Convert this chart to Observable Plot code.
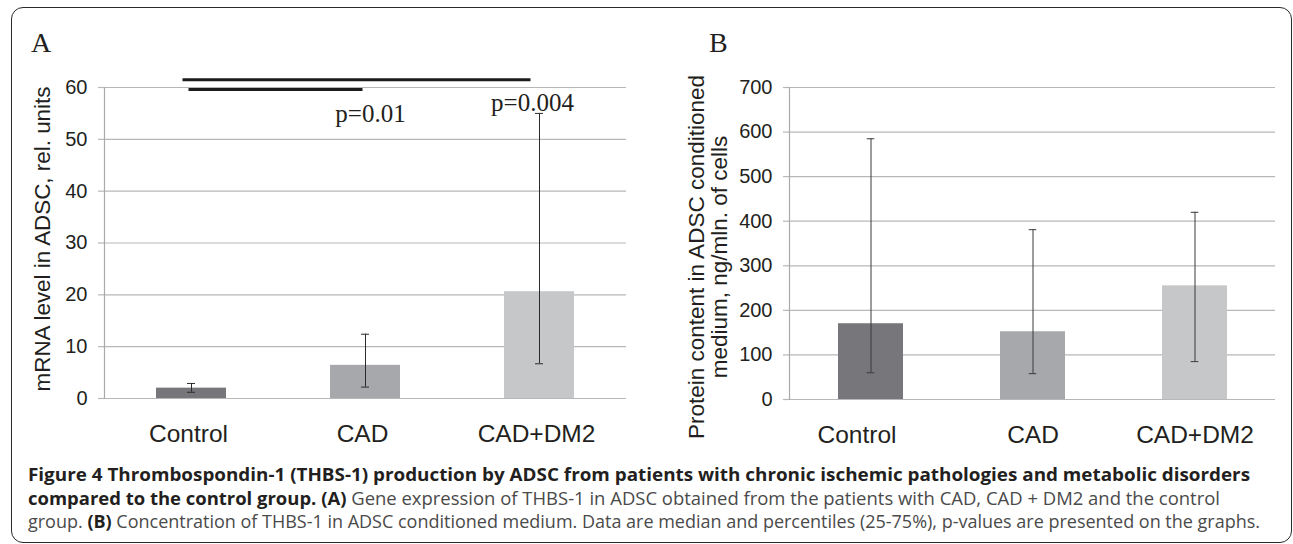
<!DOCTYPE html>
<html>
<head>
<meta charset="utf-8">
<script src="https://cdn.jsdelivr.net/npm/d3@7"></script>
<script src="https://cdn.jsdelivr.net/npm/@observablehq/plot@0.6"></script>
<style>
  html, body { margin: 0; padding: 0; background: #fff; }
  #fig { position: relative; width: 1293px; height: 544px; overflow: hidden; background: #fff; }
  #frame { position: absolute; left: 11px; top: 7px; width: 1281px; height: 536px; box-sizing: border-box;
           border: 1.6px solid #2a2a2a; border-radius: 12px; }
  .panel { position: absolute; top: 0; }
  .plabel { position: absolute; font-family: "Liberation Serif", "Times New Roman", serif; font-size: 28px;
            color: #231f20; line-height: 28px; }
  .ylab { position: absolute; transform-origin: 0 0; transform: rotate(-90deg); white-space: nowrap;
          font-family: "Liberation Sans", Arial, sans-serif; color: #231f20; text-align: center; }
  .cap { position: absolute; left: 28px; white-space: nowrap; font-family: "Open Sans", sans-serif;
         font-size: 18.5px; line-height: 23.5px; color: #4a4a4a; transform-origin: 0 0; }
  .cap b { color: #231f20; font-weight: 700; }
</style>
</head>
<body>
<div id="fig">
  <div id="frame"></div>
  <div id="panelA" class="panel" style="left:0px"></div>
  <div id="panelB" class="panel" style="left:640px"></div>
  <div class="plabel" style="left:31px; top:29px">A</div>
  <div class="plabel" style="left:709px; top:29px">B</div>
  <div class="ylab" style="left:32px; top:439px; width:400px; font-size:22.4px; line-height:22px;">mRNA level in ADSC, rel. units</div>
  <div class="ylab" style="left:685px; top:457px; width:400px; font-size:22.5px; line-height:23px;">Protein content in ADSC conditioned<br>medium, ng/mln. of cells</div>
  <div class="cap" id="cap1" style="top:462px"><b>Figure 4 Thrombospondin-1 (THBS-1) production by ADSC from patients with chronic ischemic pathologies and metabolic disorders</b></div>
  <div class="cap" id="cap2" style="top:485.5px"><b>compared to the control group. (A)</b> Gene expression of THBS-1 in ADSC obtained from the patients with CAD, CAD + DM2 and the control</div>
  <div class="cap" id="cap3" style="top:509px">group. <b>(B)</b> Concentration of THBS-1 in ADSC conditioned medium. Data are median and percentiles (25-75%), p-values are presented on the graphs.</div>
</div>
<script>
// ---- data ----
const categories = ["Control", "CAD", "CAD+DM2"];
const barColors = ["#77777b", "#a7a8ab", "#c6c7c9"];

// Panel A: mRNA level (median, 25th, 75th percentile)
const mrnaMedian = [2.0, 6.4, 20.6];
const mrnaLow = [1.2, 2.2, 6.7];
const mrnaHigh = [2.9, 12.4, 55.0];
const mrnaTicks = [0, 10, 20, 30, 40, 50, 60];

// Panel B: protein content (median, 25th, 75th percentile)
const proteinMedian = [170, 152, 255];
const proteinLow = [60, 58, 85];
const proteinHigh = [585, 381, 420];
const proteinTicks = [0, 100, 200, 300, 400, 500, 600, 700];

// significance annotations (panel A)
const brackets = [
  {from: "Control", to: "CAD+DM2", y: 61.5},
  {from: "Control", to: "CAD", y: 59.6}
];
const pLabels = [
  {group: "CAD", y: 54.8, text: "p=0.01"},
  {group: "CAD+DM2", y: 57.1, text: "p=0.004"}
];

// ---- build ----
const rowsA = categories.map((c, i) => ({group: c, median: mrnaMedian[i], low: mrnaLow[i], high: mrnaHigh[i]}));
const rowsB = categories.map((c, i) => ({group: c, median: proteinMedian[i], low: proteinLow[i], high: proteinHigh[i]}));

const baseStyle = {
  fontFamily: "'Liberation Sans', Arial, sans-serif",
  fontSize: "20px",
  color: "#231f20",
  background: "transparent",
  overflow: "visible"
};
const gridColor = "#b7b7b7";
const axisColor = "#a9a9a9";

function panel({rows, ticks, domain, width, marginLeft, marginRight, marginBottom, capInset, errColor, xAxes, extra}) {
  return Plot.plot({
    width, height: 460,
    marginLeft, marginRight, marginTop: 87, marginBottom,
    style: baseStyle,
    x: {domain: categories, paddingInner: 0.6, paddingOuter: 0.3, axis: null},
    y: {domain, axis: null},
    color: {domain: categories, range: barColors},
    marks: [
      Plot.gridY(ticks, {stroke: gridColor, strokeOpacity: 1, strokeWidth: 1.2}),
      Plot.axisY(ticks, {tickSize: 6, tickPadding: 11, stroke: gridColor, strokeWidth: 1.2, fill: "#231f20", fontSize: 20, label: null}),
      ...xAxes,
      Plot.barY(rows, {x: "group", y: "median", fill: "group"}),
      Plot.frame({anchor: "left", stroke: axisColor, strokeWidth: 1.2}),
      Plot.ruleX(rows, {x: "group", y1: "low", y2: "high", stroke: errColor, strokeWidth: 1}),
      Plot.tickY(rows, {x: "group", y: "low", stroke: errColor, strokeWidth: 1, insetLeft: capInset, insetRight: capInset}),
      Plot.tickY(rows, {x: "group", y: "high", stroke: errColor, strokeWidth: 1, insetLeft: capInset, insetRight: capInset}),
      ...(extra || [])
    ]
  });
}

const xAxisOpts = {tickSize: 0, tickPadding: 26.5, fontSize: 24.5, fill: "#231f20", label: null};
const serif = "'Liberation Serif', 'Times New Roman', serif";

const plotA = panel({
  rows: rowsA, ticks: mrnaTicks, domain: [0, 60],
  width: 640, marginLeft: 104, marginRight: 14, marginBottom: 62,
  capInset: 31, errColor: "#2b2b2b",
  xAxes: [Plot.axisX(categories, {...xAxisOpts, dx: -3})],
  extra: [
    Plot.link([brackets[0]], {x1: "from", x2: "to", y1: "y", y2: "y", stroke: "#1c1c1c", strokeWidth: 3, dx: -9}),
    Plot.link([brackets[1]], {x1: "from", x2: "to", y1: "y", y2: "y", stroke: "#1c1c1c", strokeWidth: 3, dx: -3}),
    Plot.text([pLabels[0]], {x: "group", y: "y", text: "text", dx: 5, fontFamily: serif, fontSize: 25, fill: "#231f20"}),
    Plot.text([pLabels[1]], {x: "group", y: "y", text: "text", dx: -7, fontFamily: serif, fontSize: 25, fill: "#231f20"})
  ]
});
document.getElementById("panelA").appendChild(plotA);

const plotB = panel({
  rows: rowsB, ticks: proteinTicks, domain: [0, 700],
  width: 653, marginLeft: 149, marginRight: 18, marginBottom: 61,
  capInset: 28.7, errColor: "#3a3a3a",
  xAxes: [
    Plot.axisX(categories.slice(0, 1), {...xAxisOpts, dx: -14}),
    Plot.axisX(categories.slice(1), xAxisOpts)
  ]
});
document.getElementById("panelB").appendChild(plotB);

// fit each caption line to the width it spans in the original (condensed typeface look)
const capTargets = [["cap1", 1222], ["cap2", 1192], ["cap3", 1232]];
for (const [id, target] of capTargets) {
  const el = document.getElementById(id);
  const w = el.getBoundingClientRect().width;
  el.style.transform = `scaleX(${target / w})`;
}
</script>
</body>
</html>
